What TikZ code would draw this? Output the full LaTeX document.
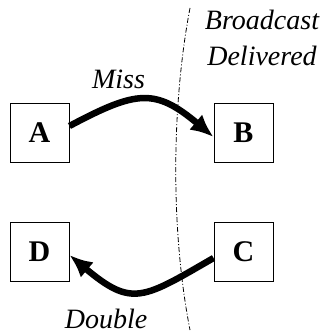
\documentclass[tikz,border=0pt]{standalone}
\usepackage{fontspec}
\setmainfont{Liberation Serif}
\usetikzlibrary{arrows.meta}

\begin{document}
\begin{tikzpicture}[
          x=1pt, y=1pt,
          host/.style={rectangle, draw, line width=0.9pt, minimum size=59pt, inner sep=0pt,
                       font=\fontsize{30}{34}\selectfont\bfseries},
          msg/.style={draw, ->, line width=6.5pt},
          tag/.style={anchor=base, inner sep=0pt, font=\fontsize{28}{35}\selectfont\itshape},
          cut/.style={draw, line width=0.8pt, dash pattern=on 5pt off 2pt on 1pt off 2pt},
          >={Latex[length=23pt, width=20pt]}
        ]
        \useasboundingbox (0,0) rectangle (323,333);
        % hosts
        \node[host] (A) at (39.5,200.5) {A};
        \node[host] (B) at (243.5,200.5) {B};
        \node[host] (C) at (243.5,81) {C};
        \node[host] (D) at (39.5,81) {D};
        % broadcast boundary
        \coordinate (top) at (190,325);
        \coordinate (bottom) at (190,3);
        \path[cut] (top) .. controls (171,225) and (171,100) .. (bottom);
        \node[tag, align=center] (broadcast) at (262,303) {Broadcast};
        \node[tag] (delivered) at (262,268) {Delivered};
        % messages
        \path[msg] ([yshift=6.5pt]A.east) to[out=28, in=140, looseness=1.35] ([yshift=-4.5pt]B.west);
        \node[tag] (miss) at (118.5,244) {Miss};
        \path[msg] ([yshift=-6pt]C.west) to[out=210, in=-40, looseness=1.45] ([yshift=-3pt]D.east);
        \node[tag] (double) at (106,5) {Double};
      \end{tikzpicture}
\end{document}
